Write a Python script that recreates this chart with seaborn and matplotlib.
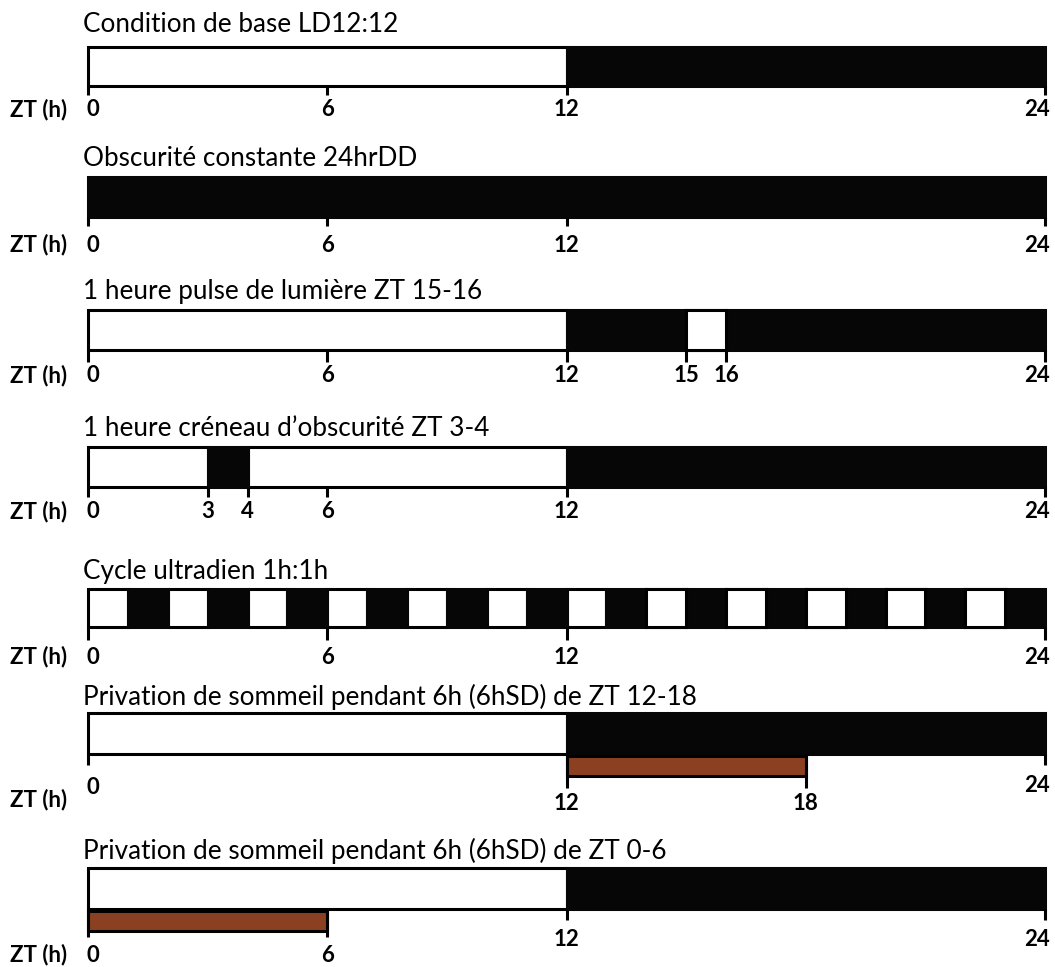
import numpy as np
import pandas as pd
import seaborn as sns
import matplotlib.pyplot as plt

# ---- data (hours, ZT) ----
titles = [
    'Condition de base LD12:12',
    'Obscurité constante 24hrDD',
    '1 heure pulse de lumière ZT 15-16',
    '1 heure créneau d\u2019obscurité ZT 3-4',
    'Cycle ultradien 1h:1h',
    'Privation de sommeil pendant 6h (6hSD) de ZT 12-18',
    'Privation de sommeil pendant 6h (6hSD) de ZT 0-6',
]

# light (white) and dark (black) periods for each protocol
light_periods = [
    [(0, 12)],
    [],
    [(0, 12), (15, 16)],
    [(0, 3), (4, 12)],
    [(0, 1), (2, 3), (4, 5), (6, 7), (8, 9), (10, 11),
     (12, 13), (14, 15), (16, 17), (18, 19), (20, 21), (22, 23)],
    [(0, 12)],
    [(0, 12)],
]
dark_periods = [
    [(12, 24)],
    [(0, 24)],
    [(12, 15), (16, 24)],
    [(3, 4), (12, 24)],
    [(1, 2), (3, 4), (5, 6), (7, 8), (9, 10), (11, 12),
     (13, 14), (15, 16), (17, 18), (19, 20), (21, 22), (23, 24)],
    [(12, 24)],
    [(12, 24)],
]
# sleep deprivation windows (None when absent)
sd_periods = [None, None, None, None, None, (12, 18), (0, 6)]

tick_hours = [
    [0, 6, 12, 24],
    [0, 6, 12, 24],
    [0, 6, 12, 15, 16, 24],
    [0, 3, 4, 6, 12, 24],
    [0, 6, 12, 24],
    [0, 12, 18, 24],
    [0, 6, 12, 24],
]

# ---- layout (figure pixels, y downwards) ----
W, H = 1055, 967
X_ZERO, PX_PER_H = 88, 39.875
title_y = [24, 159, 291, 429, 572, 697, 851]
bar_top = [47, 177, 310, 447, 589, 713, 868]
bar_bot = [86, 217, 350, 487, 627, 754, 909]
tick_end = [95, 226, 362, 497, 640, 765, 920]
label_y = [110, 245, 376, 512, 657, 785, 940]
zt_y = [110, 245, 376, 512, 657, 800, 955]
sd_h = 20
# per-tick overrides for panels where labels sit lower (below the SD bar)
low_ticks = {5: ([12, 18], 788, 803, [0], 765, 787), 6: ([0, 6], 937, 955, [], 0, 0)}

sd_color = '#8B4121'
dark = '#060606'
lw = 2.2

sns.set_theme(style='white')
plt.rcParams['font.family'] = ['Lato', 'DejaVu Sans']

fig = plt.figure(figsize=(W / 100, H / 100), dpi=100)
ax = fig.add_axes([0, 0, 1, 1])
ax.set_xlim(-X_ZERO / PX_PER_H, (W - X_ZERO) / PX_PER_H)
ax.set_ylim(H, 0)
ax.axis('off')

for i, title in enumerate(titles):
    top, bot = bar_top[i], bar_bot[i]
    mid, hgt = (top + bot) / 2, bot - top

    ax.text(-0.13, title_y[i], title, ha='left', va='center', fontsize=18.8, color='black')

    for s, e in light_periods[i]:
        ax.barh(mid, e - s, left=s, height=hgt, color='white', edgecolor='black', linewidth=lw, zorder=2)
    for s, e in dark_periods[i]:
        ax.barh(mid, e - s, left=s, height=hgt, color=dark, edgecolor=dark, linewidth=lw, zorder=3)
    # the light pulse sits on top of the dark period
    for s, e in light_periods[i]:
        if s > 12:
            ax.barh(mid, e - s, left=s, height=hgt, color='white', edgecolor='black', linewidth=lw, zorder=4)

    if sd_periods[i] is not None:
        s, e = sd_periods[i]
        ax.barh(bot + 2 + sd_h / 2, e - s, left=s, height=sd_h, color=sd_color,
                edgecolor='black', linewidth=lw, zorder=3)

    lowered, low_end, low_lab, raised, r_end, r_lab = low_ticks.get(i, ([], 0, 0, [], 0, 0))
    for h in tick_hours[i]:
        if h in lowered:
            t_end, l_y = low_end, low_lab
        elif h in raised:
            t_end, l_y = r_end, r_lab
        else:
            t_end, l_y = tick_end[i], label_y[i]
        ax.plot([h, h], [bot, t_end], color='black', lw=lw, solid_capstyle='butt', zorder=5)
        if h == 0:
            ha, xx = 'left', -0.05
        elif h == 24:
            ha, xx = 'right', 24.12
        else:
            ha, xx = 'center', h
        ax.text(xx, l_y, str(h), ha=ha, va='center', fontsize=16, fontweight='bold', color='black')

    ax.text(-1.96, zt_y[i], 'ZT (h)', ha='left', va='center', fontsize=16, fontweight='bold', color='black')

fig.savefig('out.png', dpi=100, facecolor='white')
